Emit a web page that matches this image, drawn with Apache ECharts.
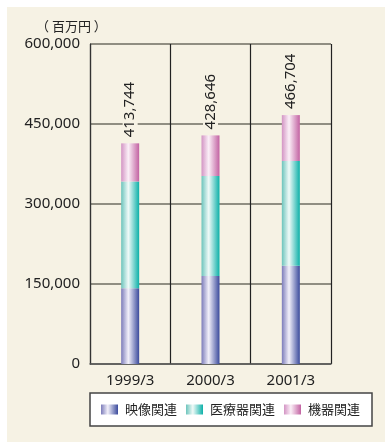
<!DOCTYPE html>
<html>
<head>
<meta charset="utf-8">
<script src="https://cdn.jsdelivr.net/npm/echarts@6/dist/echarts.min.js"></script>
<style>
  html, body { margin: 0; padding: 0; background: #fff; }
  #chart {
    width: 385px; height: 442px;
    background: linear-gradient(#f6f2e4, #f6f2e4) 7px 7px / 378px 435px no-repeat, #fff;
  }
</style>
</head>
<body>
<div id="chart"></div>
<script>
// Fiscal years (March year-end)
const categories = ['1999/3', '2000/3', '2001/3'];
// Totals printed above each bar (million yen)
const totals = [413744, 428646, 466704];
// Segment values (million yen)
const imaging = [142000, 165000, 184300];   // 映像関連
const medical = [200200, 187500, 196300];   // 医療器関連
// Equipment segment is the remainder of the total
const equipment = totals.map((t, i) => t - imaging[i] - medical[i]); // 機器関連
const yTicks = [0, 150000, 300000, 450000, 600000];

const seriesNames = ['映像関連', '医療器関連', '機器関連'];

function barGradient(edgeL, mid, edgeR) {
  return new echarts.graphic.LinearGradient(0, 0, 1, 0, [
    { offset: 0, color: edgeL },
    { offset: 0.4, color: mid },
    { offset: 1, color: edgeR }
  ]);
}

const colors = [
  barGradient('#7c7cba', '#f2f0fa', '#3a4a9c'),
  barGradient('#6cc4bc', '#f0faf8', '#0cb0a8'),
  barGradient('#d394c4', '#fbeff7', '#c262a2')
];

const fontLatin = '"Noto Sans", "Noto Sans CJK JP", sans-serif';
const fontCJK = '"Noto Sans CJK JP", "Noto Sans", sans-serif';

const chart = echarts.init(document.getElementById('chart'));

chart.setOption({
  animation: false,
  backgroundColor: 'transparent',
  grid: { left: 90, top: 44, right: 54, bottom: 78, containLabel: false },
  graphic: [{
    type: 'text',
    left: 36, top: 20,
    style: { text: '（ 百万円 ）', font: '13px "Noto Sans CJK JP", sans-serif', fill: '#222' }
  }],
  legend: {
    left: 90, top: 393,
    padding: [10, 12, 10, 11],
    backgroundColor: '#fff',
    borderColor: '#444',
    borderWidth: 1.5,
    itemWidth: 17, itemHeight: 10,
    itemGap: 9,
    icon: 'rect',
    textStyle: { fontFamily: fontCJK, fontSize: 13, color: '#222', padding: [0, 0, 0, 2] },
    data: seriesNames
  },
  xAxis: {
    type: 'category',
    data: categories,
    boundaryGap: true,
    axisLine: { lineStyle: { color: '#555', width: 1.5 } },
    axisTick: { show: false },
    axisLabel: { fontFamily: fontLatin, fontSize: 15, color: '#222', margin: 9 },
    splitLine: { show: true, lineStyle: { color: '#222', width: 1.2 } }
  },
  yAxis: {
    type: 'value',
    min: 0, max: 600000, interval: 150000,
    axisLine: { show: true, lineStyle: { color: '#333', width: 1.2 } },
    axisTick: { show: false },
    axisLabel: {
      fontFamily: fontLatin, fontSize: 15, color: '#222', margin: 10,
      formatter: v => yTicks.includes(v) ? v.toLocaleString('en-US') : ''
    },
    splitLine: { lineStyle: { color: '#6e6c62', width: 1.5 } }
  },
  series: [
    { name: seriesNames[0], type: 'bar', stack: 'total', barWidth: 18, data: imaging,
      itemStyle: { color: colors[0] } },
    { name: seriesNames[1], type: 'bar', stack: 'total', barWidth: 18, data: medical,
      itemStyle: { color: colors[1] } },
    { name: seriesNames[2], type: 'bar', stack: 'total', barWidth: 18, data: equipment,
      itemStyle: { color: colors[2] },
      label: {
        show: true,
        position: 'top',
        rotate: 90,
        align: 'left',
        verticalAlign: 'middle',
        distance: 3,
        padding: [0, 3],
        backgroundColor: '#f6f2e4',
        fontFamily: fontLatin, fontSize: 15, color: '#222',
        formatter: p => totals[p.dataIndex].toLocaleString('en-US')
      } }
  ]
});
</script>
</body>
</html>
